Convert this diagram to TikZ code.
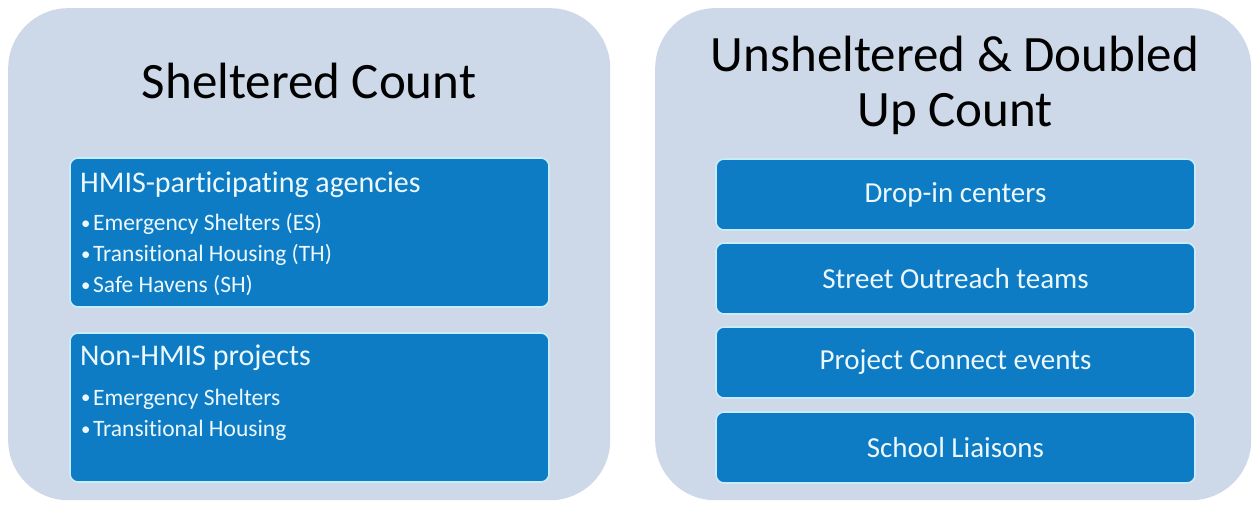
\documentclass[tikz,border=0pt]{standalone}
\usepackage{fontspec}
\setmainfont[Ligatures=NoCommon]{Carlito}
\definecolor{panelbg}{RGB}{205,216,232}
\definecolor{boxblue}{RGB}{14,124,196}
\definecolor{boxedge}{RGB}{200,236,248}
\definecolor{boxtext}{RGB}{236,248,252}
\newcommand\blt{\makebox[12pt][l]{\raisebox{1pt}{\scalebox{0.8}{•}}}}
\begin{document}
\begin{tikzpicture}[x=1pt,y=1pt,
  panel/.style={draw=none, fill=panelbg, rounded corners=60pt, inner sep=0pt},
  itembox/.style={draw=boxedge, line width=1.6pt, fill=boxblue, rounded corners=8pt,
    minimum width=479pt, inner sep=0pt, text=boxtext},
  ttl/.style={font=\fontsize{51}{55}\selectfont, text=black, inner sep=0pt},
  head/.style={font=\fontsize{30}{34}\selectfont, text=boxtext, inner sep=0pt, anchor=base west},
  bl/.style={font=\fontsize{23.5}{27}\selectfont, text=boxtext, inner sep=0pt, anchor=base west},
  cen/.style={font=\fontsize{29}{33}\selectfont}]
\useasboundingbox (0,0) rectangle (1257,506);
\fill[white] (0,0) rectangle (1257,506);
% panels
\node[panel, minimum width=602pt, minimum height=492pt, anchor=north west] (lp) at (8,498) {};
\node[panel, minimum width=596pt, minimum height=492pt, anchor=north west] (rp) at (655,498) {};
% left
\node[ttl, anchor=base] (lt) at (309,407) {Sheltered Count};
\node[itembox, minimum height=149pt] (b1) at (309.5,273.5) {};
\node[itembox, minimum height=149pt] (b2) at (309.5,98.5) {};
\node[head] (h1) at (80,313) {HMIS-participating agencies};
\node[bl] (b1a) at (81,275) {\blt Emergency Shelters (ES)};
\node[bl] (b1b) at (81,244) {\blt Transitional Housing (TH)};
\node[bl] (b1c) at (81,213) {\blt Safe Havens (SH)};
\node[head] (h2) at (80,140) {Non-HMIS projects};
\node[bl] (b2a) at (81,101) {\blt Emergency Shelters};
\node[bl] (b2b) at (81,70) {\blt Transitional Housing};
% right
\node[ttl, anchor=base] (rt1) at (955,434) {Unsheltered \& Doubled};
\node[ttl, anchor=base] (rt2) at (955,379) {Up Count};
\node[itembox, minimum height=71pt, cen] (r1) at (955.5,311.5) {Drop-in centers};
\node[itembox, minimum height=71pt, cen] (r2) at (955.5,227.5) {Street Outreach teams};
\node[itembox, minimum height=71pt, cen] (r3) at (955.5,143.5) {Project Connect events};
\node[itembox, minimum height=71pt, cen] (r4) at (955.5,58.5) {School Liaisons};
\end{tikzpicture}
\end{document}
